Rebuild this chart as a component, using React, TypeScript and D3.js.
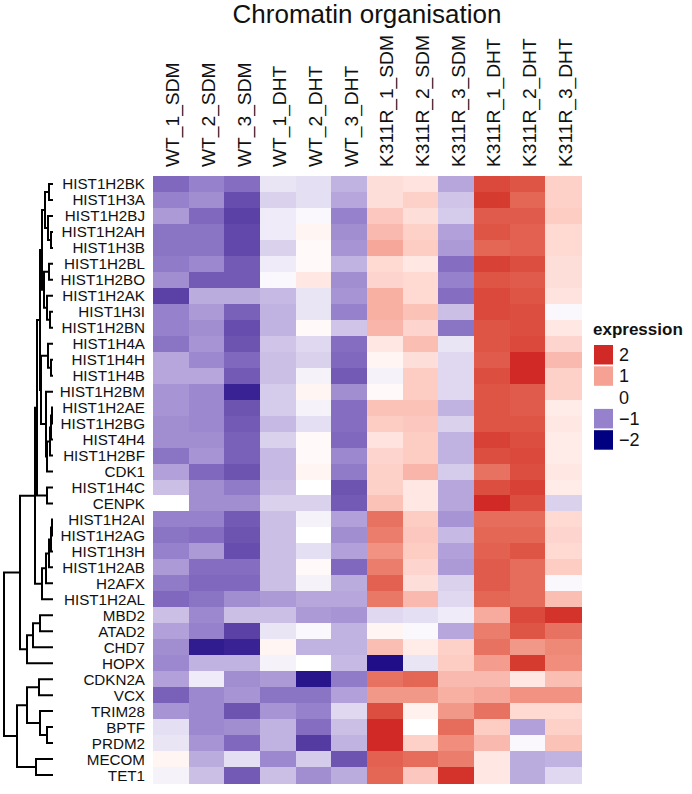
import React from "react";
import * as d3 from "d3";

const title = "Chromatin organisation";
const samples = ["WT_1_SDM","WT_2_SDM","WT_3_SDM","WT_1_DHT","WT_2_DHT","WT_3_DHT","K311R_1_SDM","K311R_2_SDM","K311R_3_SDM","K311R_1_DHT","K311R_2_DHT","K311R_3_DHT"];
const genes = ["HIST1H2BK","HIST1H3A","HIST1H2BJ","HIST1H2AH","HIST1H3B","HIST1H2BL","HIST1H2BO","HIST1H2AK","HIST1H3I","HIST1H2BN","HIST1H4A","HIST1H4H","HIST1H4B","HIST1H2BM","HIST1H2AE","HIST1H2BG","HIST4H4","HIST1H2BF","CDK1","HIST1H4C","CENPK","HIST1H2AI","HIST1H2AG","HIST1H3H","HIST1H2AB","H2AFX","HIST1H2AL","MBD2","ATAD2","CHD7","HOPX","CDKN2A","VCX","TRIM28","BPTF","PRDM2","MECOM","TET1"];

const expression: number[][] = [
  [-1.2,-1.0,-1.15,-0.2,-0.25,-0.6,0.35,0.3,-0.7,1.8,1.7,0.5],
  [-1.0,-0.9,-1.4,-0.35,-0.25,-0.7,0.35,0.5,-0.45,1.9,1.55,0.5],
  [-0.8,-1.2,-1.5,-0.15,-0.05,-1.0,0.6,0.35,-0.4,1.65,1.65,0.55],
  [-1.1,-1.1,-1.45,-0.15,0.1,-0.9,0.75,0.5,-0.75,1.7,1.6,0.4],
  [-1.1,-1.1,-1.45,-0.35,0.05,-0.85,0.95,0.55,-0.8,1.55,1.6,0.4],
  [-1.05,-0.95,-1.3,-0.15,0.05,-0.6,0.4,0.25,-1.15,1.85,1.75,0.35],
  [-0.9,-1.3,-1.3,-0.05,0.25,-0.9,0.45,0.4,-1.0,1.7,1.65,0.35],
  [-1.5,-0.65,-0.65,-0.55,-0.2,-0.85,0.85,0.4,-1.15,1.8,1.7,0.3],
  [-1.0,-0.8,-1.25,-0.6,-0.2,-1.0,0.85,0.65,-0.5,1.8,1.75,-0.05],
  [-1.0,-0.9,-1.4,-0.6,0.05,-0.45,0.8,0.45,-1.1,1.7,1.75,0.25],
  [-1.1,-0.85,-1.35,-0.45,-0.3,-1.15,0.25,0.7,-0.2,1.7,1.8,0.45],
  [-0.7,-0.95,-1.2,-0.5,-0.35,-1.2,0.1,0.35,-0.3,1.65,2.0,0.75],
  [-0.7,-0.7,-1.3,-0.5,-0.1,-1.3,-0.1,0.55,-0.3,1.75,2.0,0.5],
  [-0.85,-0.95,-1.75,-0.4,0.1,-0.9,0.05,0.55,-0.3,1.7,1.65,0.5],
  [-0.85,-0.95,-1.35,-0.4,-0.1,-1.15,0.65,0.65,-0.6,1.7,1.65,0.2],
  [-0.9,-0.95,-1.3,-0.55,-0.25,-1.15,0.55,0.6,-0.35,1.7,1.7,0.25],
  [-0.9,-0.9,-1.25,-0.35,0.05,-1.2,0.3,0.55,-0.6,1.85,1.75,0.2],
  [-1.1,-0.85,-1.25,-0.55,0.05,-0.95,0.45,0.55,-0.6,1.75,1.8,0.2],
  [-0.75,-1.2,-1.35,-0.55,0.1,-1.05,0.5,0.8,-0.4,1.45,1.75,0.25],
  [-0.5,-0.9,-1.05,-0.5,0.0,-1.35,0.5,0.25,-0.7,1.75,1.85,0.2],
  [0.0,-0.9,-0.9,-0.35,-0.35,-1.3,0.65,0.25,-0.7,2.0,1.75,-0.35],
  [-1.0,-1.0,-1.3,-0.5,-0.1,-0.75,1.45,0.55,-0.85,1.5,1.5,0.4],
  [-1.1,-1.15,-1.35,-0.5,0.0,-0.9,1.35,0.6,-0.55,1.55,1.55,0.45],
  [-1.0,-0.8,-1.4,-0.5,-0.25,-0.75,1.15,0.55,-0.75,1.6,1.7,0.4],
  [-0.8,-1.15,-1.15,-0.5,0.05,-1.2,1.35,0.45,-0.8,1.65,1.5,0.55],
  [-1.05,-1.2,-1.2,-0.5,-0.1,-0.65,1.6,0.35,-0.35,1.65,1.5,-0.05],
  [-1.2,-1.1,-0.9,-0.8,-0.7,-0.7,1.4,0.75,-0.3,1.55,1.5,0.7],
  [-0.5,-0.95,-0.5,-0.5,-0.8,-0.85,-0.3,-0.25,-0.15,0.9,1.8,1.95],
  [-0.75,-1.0,-1.5,-0.2,-0.05,-0.6,0.1,-0.05,-0.7,1.35,1.7,1.45],
  [-0.9,-1.8,-1.75,0.1,-0.6,-0.6,0.7,0.2,0.5,1.45,1.1,1.25],
  [-0.95,-0.6,-0.6,-0.1,0.0,-0.55,-1.9,-0.2,0.55,1.05,1.9,1.2],
  [-0.75,-0.15,-0.9,-0.8,-1.85,-1.05,1.45,1.55,0.75,0.75,0.25,0.7],
  [-1.25,-0.95,-0.85,-1.1,-1.1,-0.75,1.1,1.1,0.85,0.95,1.15,1.15],
  [-0.85,-0.95,-1.35,-0.85,-1.0,-0.3,1.75,0.15,1.1,1.45,0.4,0.4],
  [-0.25,-0.95,-0.9,-0.6,-1.15,-0.5,2.0,0.0,1.5,0.55,-0.75,0.5],
  [-0.2,-0.85,-1.2,-0.6,-1.55,-0.6,2.0,0.5,1.2,0.75,-0.05,0.65],
  [0.1,-0.65,-0.25,-0.95,-0.4,-1.35,1.6,1.5,1.35,0.25,-0.65,-0.6],
  [-0.1,-0.5,-1.3,-0.5,-0.9,-0.65,1.55,0.6,1.95,0.25,-0.65,-0.3],
];

const legendBreaks = [2, 1, 0, -1, -2];
const legendLabels = ["2", "1", "0", "\u22121", "\u22122"];
const colorStops = [-2, -1, 0, 1, 2];
const colorValues = ["#000080", "#9682cc", "#ffffff", "#f5a294", "#d12a26"];

type TreeNode = string | { h: number; c: [TreeNode, TreeNode] };
const m = (h: number, a: TreeNode, b: TreeNode): TreeNode => ({ h, c: [a, b] });

const dendrogram: TreeNode = m(49,
  m(33,
    m(18,
      m(16,
        m(13,
          m(11,
            m(8, m(4, "HIST1H2BK", "HIST1H3A"), m(5, "HIST1H2BJ", m(2, "HIST1H2AH", "HIST1H3B"))),
            m(9, m(4, "HIST1H2BL", "HIST1H2BO"), m(6, "HIST1H2AK", m(3, "HIST1H3I", "HIST1H2BN")))),
          m(12,
            m(5, "HIST1H4A", m(2, "HIST1H4H", "HIST1H4B")),
            m(7, "HIST1H2BM", m(6, m(3, m(2, m(1, "HIST1H2AE", "HIST1H2BG"), "HIST4H4"), "HIST1H2BF"), "CDK1")))),
        m(6, "HIST1H4C", "CENPK")),
      m(11, m(7, m(4, m(2, m(1, "HIST1H2AI", "HIST1H2AG"), "HIST1H3H"), "HIST1H2AB"), "H2AFX"), "HIST1H2AL")),
    m(26, m(20, m(13, "MBD2", "ATAD2"), "CHD7"), "HOPX")),
  m(36,
    m(26, m(14, "CDKN2A", "VCX"), m(13, "TRIM28", m(6, "BPTF", "PRDM2"))),
    m(17, "MECOM", "TET1")));

const W = 692, H = 794;
const hmLeft = 153, hmRight = 581, hmTop = 176, hmBottom = 783;

export default function App() {
  const x = d3.scaleBand<string>().domain(samples).range([hmLeft, hmRight]);
  const y = d3.scaleBand<string>().domain(genes).range([hmTop, hmBottom]);
  const color = d3.scaleLinear<string>().domain(colorStops).range(colorValues).interpolate(d3.interpolateLab).clamp(true);
  const dx = d3.scaleLinear().domain([0, 49]).range([53, 4]);

  const segs: string[] = [];
  const walk = (n: TreeNode): { y: number; h: number } => {
    if (typeof n === "string") return { y: (y(n) as number) + y.bandwidth() / 2, h: 0 };
    const a = walk(n.c[0]);
    const b = walk(n.c[1]);
    const xn = dx(n.h);
    segs.push(`M${dx(a.h)},${a.y}H${xn}V${b.y}H${dx(b.h)}`);
    return { y: (a.y + b.y) / 2, h: n.h };
  };
  const root = walk(dendrogram);

  const font = "'Liberation Sans', Arial, sans-serif";
  return (
    <svg width={W} height={H} style={{ position: "absolute", left: 0, top: 0, background: "#fff" }} fontFamily={font}>
      <rect width={W} height={H} fill="#fff" />
      <text x={(hmLeft + hmRight) / 2} y={23} textAnchor="middle" fontSize={26} fill="#111">{title}</text>
      {samples.map((s) => (
        <text key={s} transform={`translate(${(x(s) as number) + x.bandwidth() / 2 + 2},${hmTop - 9}) rotate(-90)`}
          textAnchor="start" dominantBaseline="central" fontSize={19.2} fill="#111">{s}</text>
      ))}
      <g shapeRendering="crispEdges">
        {expression.map((row, i) => row.map((v, j) => (
          <rect key={`${i}-${j}`} x={x(samples[j])} y={y(genes[i])} width={x.bandwidth() + 0.6} height={y.bandwidth() + 0.6} fill={color(v)} />
        )))}
      </g>
      {genes.map((g) => (
        <text key={g} x={145} y={(y(g) as number) + y.bandwidth() / 2} textAnchor="end" dominantBaseline="central" fontSize={15.2} fill="#111">{g}</text>
      ))}
      <g fill="none" stroke="#000" strokeWidth={2}>
        {segs.map((d, i) => <path key={i} d={d} />)}
        <path d={`M${dx(49)},${root.y}H${dx(49) - 1}`} />
      </g>
      <g>
        <text x={593} y={335} fontSize={17} fontWeight="bold" fill="#111">expression</text>
        {legendBreaks.map((b, i) => (
          <g key={b}>
            <rect x={594} y={345 + i * 21.3} width={19} height={19.5} fill={color(b)} />
            <text x={619} y={345 + i * 21.3 + 10} dominantBaseline="central" fontSize={18} fill="#111">{legendLabels[i]}</text>
          </g>
        ))}
      </g>
    </svg>
  );
}
